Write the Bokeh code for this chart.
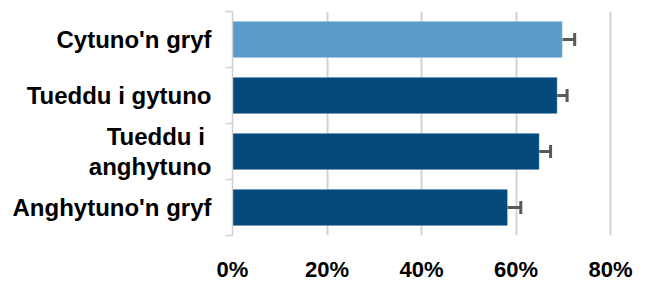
from bokeh.plotting import figure
from bokeh.models import (Range1d, FixedTicker, PrintfTickFormatter, Whisker,
                          ColumnDataSource, TeeHead)
from bokeh.embed import file_html
from bokeh.resources import INLINE

categories = ["Cytuno'n gryf", "Tueddu i gytuno", "Tueddu i \nanghytuno", "Anghytuno'n gryf"]
values = [69.8, 68.7, 64.9, 58.2]
err_low = [67.1, 66.6, 62.6, 55.5]
err_high = [72.4, 70.8, 67.3, 61.0]
colors = ["#5b9bc8", "#03497b", "#03497b", "#03497b"]
x_ticks = [0, 20, 40, 60, 80]

n = len(categories)
positions = [i + 0.5 for i in range(n)]
boundaries = list(range(n + 1))

src = ColumnDataSource(dict(y=positions, value=values, low=err_low, high=err_high,
                            color=colors, cat=categories))

p = figure(width=634, height=284, x_range=Range1d(0, 84), y_range=Range1d(n, 0),
           output_backend="svg", toolbar_location=None,
           min_border_left=232, min_border_right=5, min_border_top=11, min_border_bottom=41)
p.outline_line_color = None
p.background_fill_color = "white"

p.hbar(y="y", left=0, right="value", height=0.65, fill_color="color",
       line_color="white", line_alpha=0.35, line_width=1, source=src)

head_u = TeeHead(size=13, line_color="#595959", line_width=3)
head_l = TeeHead(size=13, line_color="#595959", line_width=3)
p.add_layout(Whisker(base="y", lower="low", upper="high", dimension="width", source=src,
                     line_color="#595959", line_width=3,
                     upper_head=head_u, lower_head=head_l))

# x axis
p.xaxis.ticker = FixedTicker(ticks=x_ticks, minor_ticks=[])
p.xaxis.formatter = PrintfTickFormatter(format="%d%%")
p.xaxis.axis_line_color = None
p.xaxis.major_tick_line_color = None
p.xaxis.minor_tick_line_color = None
p.xaxis.major_label_text_font = "Liberation Sans"
p.xaxis.major_label_text_font_style = "bold"
p.xaxis.major_label_text_font_size = "22px"
p.xaxis.major_label_text_color = "#000000"
p.xaxis.major_label_standoff = 15

p.xgrid.ticker = FixedTicker(ticks=x_ticks)
p.xgrid.grid_line_color = "#d2d2d2"
p.xgrid.grid_line_width = 2
p.ygrid.grid_line_color = None

# y axis
p.yaxis.ticker = FixedTicker(ticks=positions, minor_ticks=boundaries)
p.yaxis.major_label_overrides = {pos: cat for pos, cat in zip(positions, categories)}
p.yaxis.axis_line_color = "#cfcfcf"
p.yaxis.axis_line_width = 1.5
p.yaxis.major_tick_line_color = None
p.yaxis.major_tick_out = 0
p.yaxis.major_tick_in = 0
p.yaxis.minor_tick_line_color = "#cfcfcf"
p.yaxis.minor_tick_line_width = 1.5
p.yaxis.minor_tick_out = 7
p.yaxis.minor_tick_in = 0
p.yaxis.major_label_text_font = "Liberation Sans"
p.yaxis.major_label_text_font_style = "bold"
p.yaxis.major_label_text_font_size = "24px"
p.yaxis.major_label_text_color = "#000000"
p.yaxis.major_label_text_line_height = 1.1
p.yaxis.major_label_standoff = 14

open("out.html", "w").write(file_html(p, INLINE))
